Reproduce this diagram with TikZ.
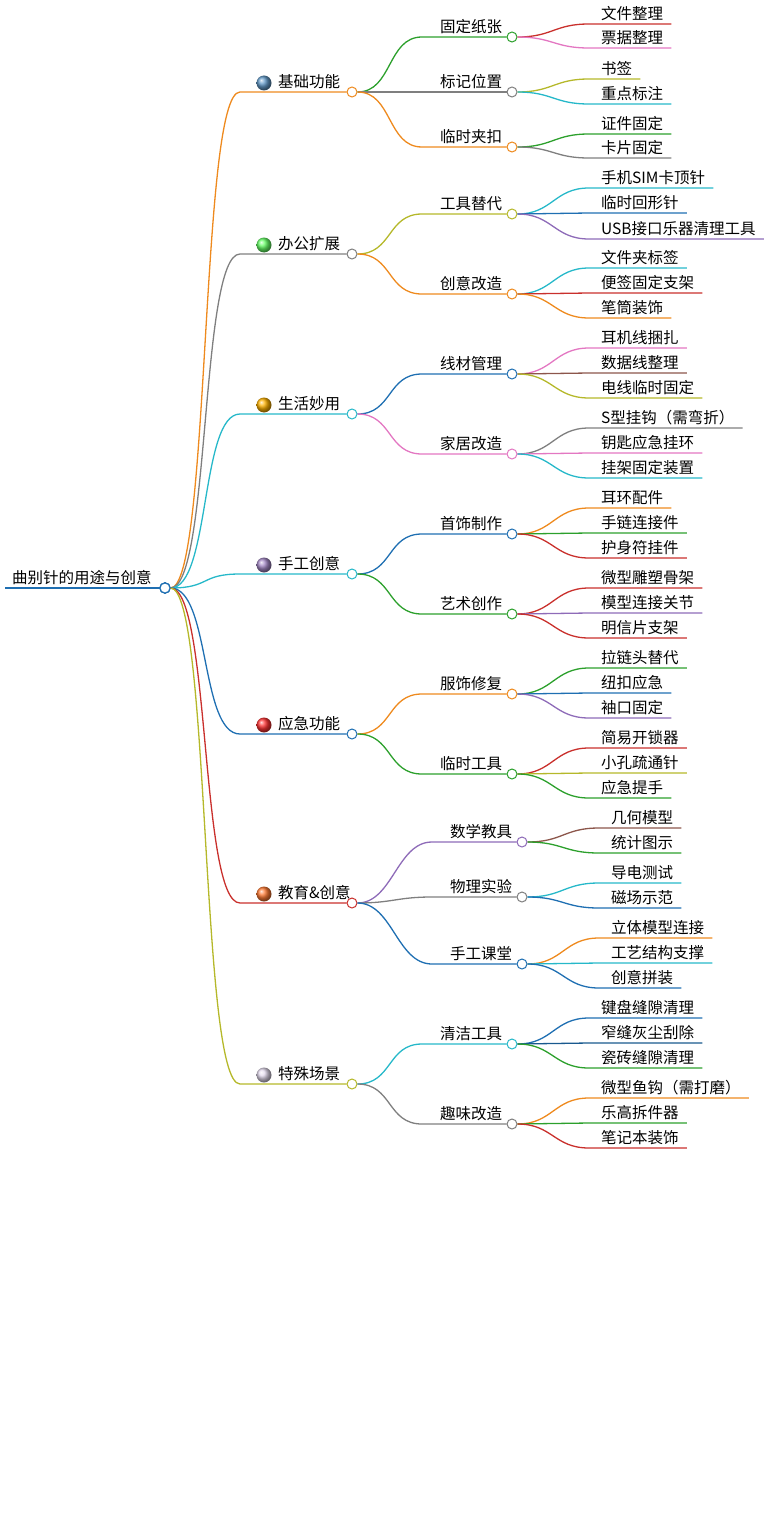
\documentclass[tikz,border=0pt]{standalone}
\usepackage{fontspec}
\setmainfont{Noto Sans CJK SC}
\definecolor{org}{HTML}{EE8A1E}
\definecolor{gry}{HTML}{7F7F7F}
\definecolor{cyn}{HTML}{26B8C9}
\definecolor{blu}{HTML}{1F6FB2}
\definecolor{rd}{HTML}{C9302C}
\definecolor{olv}{HTML}{B5B82A}
\definecolor{grn}{HTML}{2CA02C}
\definecolor{pnk}{HTML}{E377C2}
\definecolor{pur}{HTML}{8E6BB8}
\definecolor{brn}{HTML}{8C564B}
\tikzset{
  edge/.style={line width=1.3pt},
  knot/.style={circle,fill=white,draw,line width=1pt,minimum size=10pt,inner sep=0pt},
  lbl/.style={anchor=south west,inner xsep=0pt,inner ysep=3pt,font=\fontsize{15.5}{17}\selectfont},
  leaflbl/.style={anchor=south west,inner xsep=8pt,inner ysep=3pt,font=\fontsize{15.5}{17}\selectfont},
  ball/.style={circle,inner sep=0pt,minimum size=15pt,shading=ball,ball color=#1},
}
% first level: name, y, colour, dot colour, text
\newcommand\topic[5]{%
  \node[ball=#4] (#1d) at (264,#2-9) {};
  \node[lbl] (#1t) at (278,#2) {#5};
  \node[knot,draw=#3] (#1) at (352,#2) {};
  \draw[edge,#3] (root.east) .. controls +(40,0) and +(-40,0) .. (240,#2) -- (#1);
  \node[knot,draw=blu] at (root) {};}
% second level: name, parent, y, colour, text, circle x
\newcommand\subtopic[6]{%
  \node[lbl] (#1t) at (#6-72,#3) {#5};
  \node[knot,draw=#4] (#1) at (#6,#3) {};
  \draw[edge,#4] (#2.east) .. controls +(35,0) and +(-35,0) .. (#6-90,#3) -- (#1.west);}
% third level: name, parent, y, colour, text, text x
\newcommand\leaf[6]{%
  \node[leaflbl] (#1) at (#6-8,#3) {#5};
  \draw[edge,#4] (#2.east) .. controls +(35,0) and +(-35,0) .. (#6-12,#3) -- (#1.south east);}

\begin{document}
\begin{tikzpicture}[x=1pt,y=-1pt]
\useasboundingbox (0,0) rectangle (776,1533);
\node[lbl] (roott) at (12,588) {曲别针的用途与创意};
\draw[blu,line width=2.5pt] (5,588) -- (160,588);
\node[knot,draw=blu] (root) at (165,588) {};

\topic{a}{92}{org}{blu!70!white}{基础功能}
\subtopic{a1}{a}{37}{grn}{固定纸张}{512}
\leaf{a11}{a1}{24}{rd}{文件整理}{601}
\leaf{a12}{a1}{48}{pnk}{票据整理}{601}
\subtopic{a2}{a}{92}{gry}{标记位置}{512}
\leaf{a21}{a2}{79}{olv}{书签}{601}
\leaf{a22}{a2}{104}{cyn}{重点标注}{601}
\subtopic{a3}{a}{147}{org}{临时夹扣}{512}
\leaf{a31}{a3}{134}{grn}{证件固定}{601}
\leaf{a32}{a3}{158}{gry}{卡片固定}{601}

\topic{b}{254}{gry}{green!60!white}{办公扩展}
\subtopic{b1}{b}{214}{olv}{工具替代}{512}
\leaf{b11}{b1}{188}{cyn}{手机SIM卡顶针}{601}
\leaf{b12}{b1}{213}{blu}{临时回形针}{601}
\leaf{b13}{b1}{239}{pur}{USB接口乐器清理工具}{601}
\subtopic{b2}{b}{294}{org}{创意改造}{512}
\leaf{b21}{b2}{268}{cyn}{文件夹标签}{601}
\leaf{b22}{b2}{293}{rd}{便签固定支架}{601}
\leaf{b23}{b2}{318}{org}{笔筒装饰}{601}

\topic{c}{414}{cyn}{orange!60!yellow}{生活妙用}
\subtopic{c1}{c}{374}{blu}{线材管理}{512}
\leaf{c11}{c1}{348}{pnk}{耳机线捆扎}{601}
\leaf{c12}{c1}{373}{brn}{数据线整理}{601}
\leaf{c13}{c1}{398}{olv}{电线临时固定}{601}
\subtopic{c2}{c}{454}{pnk}{家居改造}{512}
\leaf{c21}{c2}{428}{gry}{S型挂钩（需弯折）}{601}
\leaf{c22}{c2}{453}{pnk}{钥匙应急挂环}{601}
\leaf{c23}{c2}{478}{cyn}{挂架固定装置}{601}

\topic{d}{574}{cyn}{pur!80!white}{手工创意}
\subtopic{d1}{d}{534}{blu}{首饰制作}{512}
\leaf{d11}{d1}{508}{org}{耳环配件}{601}
\leaf{d12}{d1}{533}{grn}{手链连接件}{601}
\leaf{d13}{d1}{558}{rd}{护身符挂件}{601}
\subtopic{d2}{d}{614}{grn}{艺术创作}{512}
\leaf{d21}{d2}{588}{rd}{微型雕塑骨架}{601}
\leaf{d22}{d2}{613}{pur}{模型连接关节}{601}
\leaf{d23}{d2}{638}{rd}{明信片支架}{601}

\topic{e}{734}{blu}{red!80!white}{应急功能}
\subtopic{e1}{e}{694}{org}{服饰修复}{512}
\leaf{e11}{e1}{668}{grn}{拉链头替代}{601}
\leaf{e12}{e1}{693}{blu}{纽扣应急}{601}
\leaf{e13}{e1}{718}{pur}{袖口固定}{601}
\subtopic{e2}{e}{774}{grn}{临时工具}{512}
\leaf{e21}{e2}{748}{rd}{简易开锁器}{601}
\leaf{e22}{e2}{773}{olv}{小孔疏通针}{601}
\leaf{e23}{e2}{798}{grn}{应急提手}{601}

\topic{f}{903}{rd}{orange!70!red!80!white}{教育\&创意}
\subtopic{f1}{f}{842}{pur}{数学教具}{522}
\leaf{f11}{f1}{828}{brn}{几何模型}{611}
\leaf{f12}{f1}{853}{grn}{统计图示}{611}
\subtopic{f2}{f}{897}{gry}{物理实验}{522}
\leaf{f21}{f2}{883}{cyn}{导电测试}{611}
\leaf{f22}{f2}{908}{blu}{磁场示范}{611}
\subtopic{f3}{f}{964}{blu}{手工课堂}{522}
\leaf{f31}{f3}{938}{org}{立体模型连接}{611}
\leaf{f32}{f3}{963}{cyn}{工艺结构支撑}{611}
\leaf{f33}{f3}{988}{blu}{创意拼装}{611}

\topic{g}{1084}{olv}{pur!25}{特殊场景}
\subtopic{g1}{g}{1044}{cyn}{清洁工具}{512}
\leaf{g11}{g1}{1018}{blu}{键盘缝隙清理}{601}
\leaf{g12}{g1}{1043}{blu!80!black}{窄缝灰尘刮除}{601}
\leaf{g13}{g1}{1068}{grn}{瓷砖缝隙清理}{601}
\subtopic{g2}{g}{1124}{gry}{趣味改造}{512}
\leaf{g21}{g2}{1098}{org}{微型鱼钩（需打磨）}{601}
\leaf{g22}{g2}{1123}{grn}{乐高拆件器}{601}
\leaf{g23}{g2}{1148}{rd}{笔记本装饰}{601}
\end{tikzpicture}
\end{document}
